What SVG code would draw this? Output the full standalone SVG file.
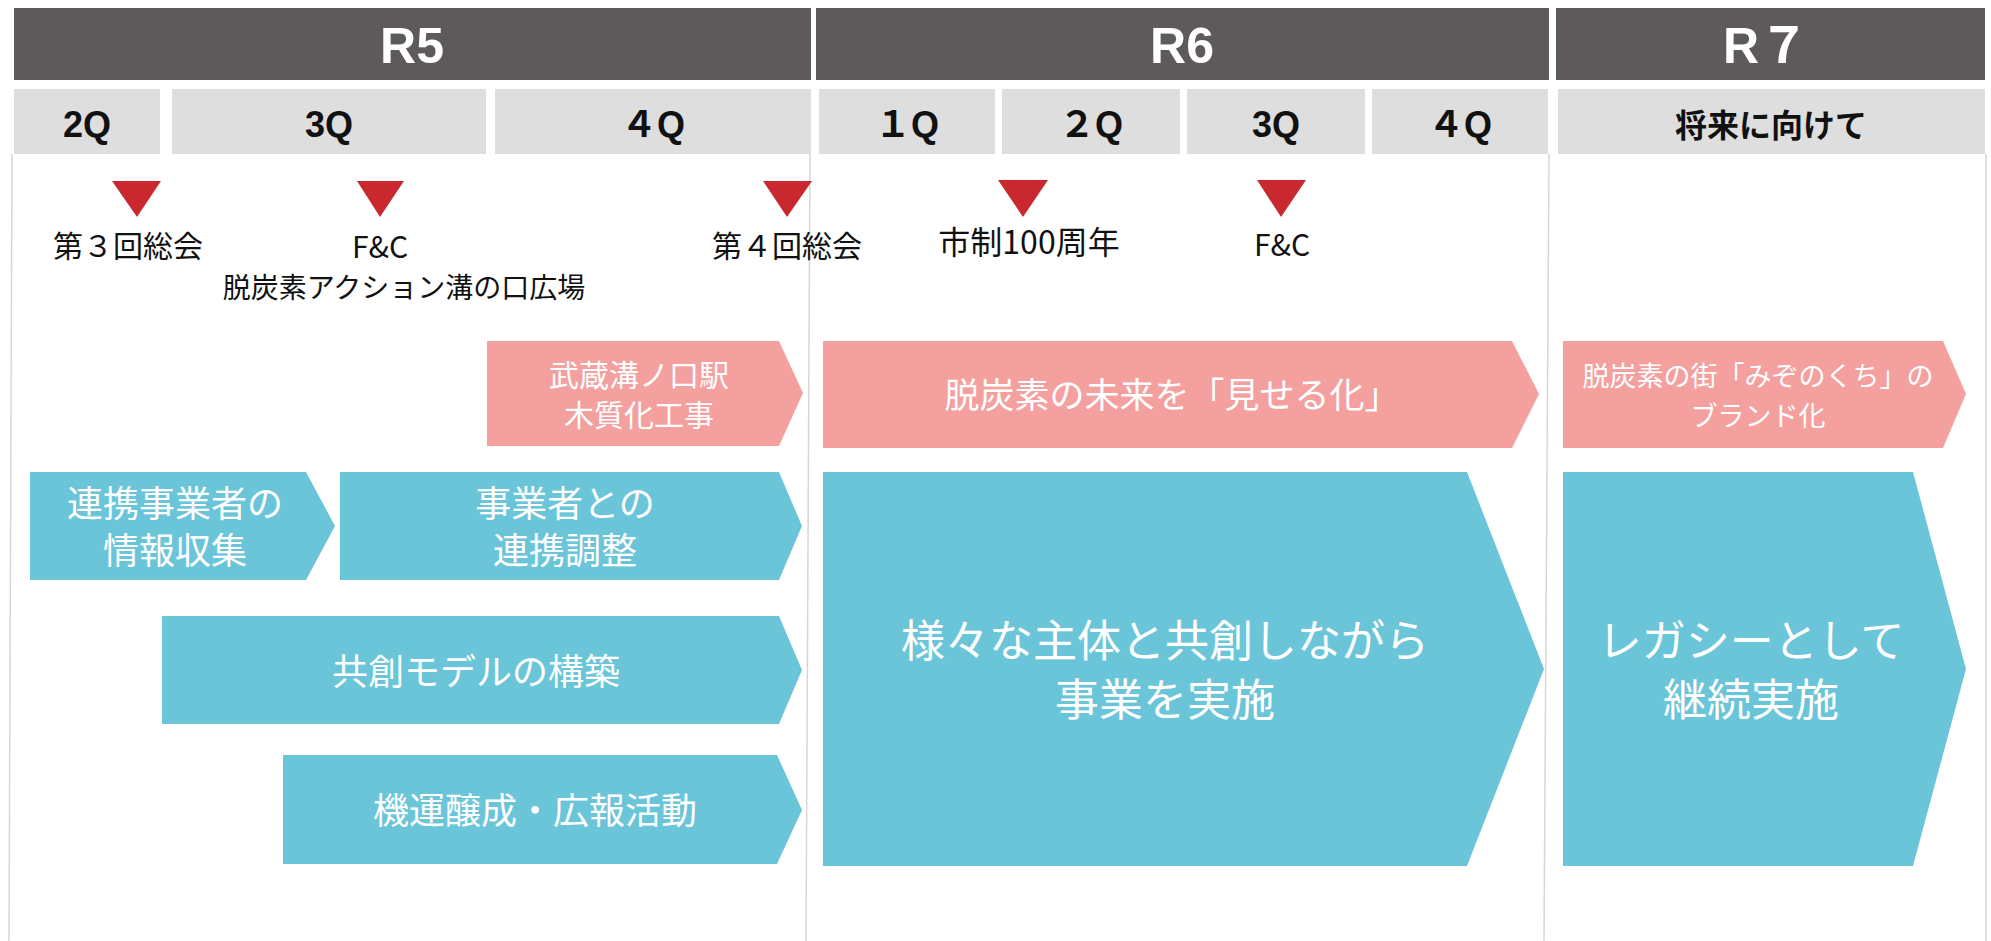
<svg xmlns="http://www.w3.org/2000/svg" width="1991" height="941" viewBox="0 0 1991 941">
<style>
.hdr{fill:#5e5a5b}
.qb{fill:#dedede}
.ht{font-family:"Liberation Sans","Noto Sans CJK JP",sans-serif;font-weight:bold;font-size:50px;fill:#fff;text-anchor:middle}
.qt{font-family:"Liberation Sans","Noto Sans CJK JP",sans-serif;font-weight:bold;font-size:36px;fill:#111;text-anchor:middle}
.qj{font-family:"Noto Sans CJK JP",sans-serif;font-weight:bold;font-size:32px;fill:#111;text-anchor:middle}
.tri{fill:#c9292e}
.ev{font-family:"Noto Sans CJK JP",sans-serif;font-size:30px;fill:#111;text-anchor:middle}
.pink{fill:#f4a09f}
.blue{fill:#6bc5d9}
.wt{font-family:"Noto Sans CJK JP",sans-serif;fill:#fff;text-anchor:middle}
.vl{stroke:#d6d6d6;stroke-width:1.5;fill:none}
</style>
<rect width="1991" height="941" fill="#fff"/>
<g id="gridlines">
<line class="vl" x1="12" y1="154" x2="9" y2="941"/>
<line class="vl" x1="810" y1="154" x2="806" y2="941"/>
<line class="vl" x1="1549" y1="154" x2="1544" y2="941"/>
<line class="vl" x1="1986" y1="154" x2="1986" y2="941"/>
</g>
<g id="header-R5"><rect class="hdr" x="14" y="8" width="797" height="72"/><text class="ht" x="412" y="63">R5</text></g>
<g id="header-R6"><rect class="hdr" x="816" y="8" width="733" height="72"/><text class="ht" x="1182" y="63">R6</text></g>
<g id="header-R7"><rect class="hdr" x="1556" y="8" width="429" height="72"/><text class="ht" x="1766" y="63">R７</text></g>
<g id="q-R5-2Q"><rect class="qb" x="14" y="89" width="146" height="65"/><text class="qt" x="87" y="137">2Q</text></g>
<g id="q-R5-3Q"><rect class="qb" x="172" y="89" width="314" height="65"/><text class="qt" x="329" y="137">3Q</text></g>
<g id="q-R5-4Q"><rect class="qb" x="495" y="89" width="316" height="65"/><text class="qt" x="653" y="137">４Q</text></g>
<g id="q-R6-1Q"><rect class="qb" x="819" y="89" width="176" height="65"/><text class="qt" x="907" y="137">１Q</text></g>
<g id="q-R6-2Q"><rect class="qb" x="1002" y="89" width="178" height="65"/><text class="qt" x="1091" y="137">２Q</text></g>
<g id="q-R6-3Q"><rect class="qb" x="1187" y="89" width="178" height="65"/><text class="qt" x="1276" y="137">3Q</text></g>
<g id="q-R6-4Q"><rect class="qb" x="1372" y="89" width="176" height="65"/><text class="qt" x="1460" y="137">４Q</text></g>
<g id="q-R7-future"><rect class="qb" x="1558" y="89" width="427" height="65"/><text class="qj" x="1771" y="137">将来に向けて</text></g>
<g id="ev-sokai3"><polygon class="tri" points="112,181 161,181 137,217"/><text class="ev" x="128" y="257">第３回総会</text></g>
<g id="ev-fc1"><polygon class="tri" points="357,181 404,181 380,217"/><text class="ev" x="380" y="258">F&amp;C</text><text class="ev" x="404" y="298" style="font-size:28px">脱炭素アクション溝の口広場</text></g>
<g id="ev-sokai4"><polygon class="tri" points="763,181 812,181 787,217"/><text class="ev" x="787" y="257">第４回総会</text></g>
<g id="ev-100th"><polygon class="tri" points="998,180 1048,180 1023,217"/><text class="ev" x="1029" y="254" style="font-size:32px">市制100周年</text></g>
<g id="ev-fc2"><polygon class="tri" points="1257,180 1306,180 1281,217"/><text class="ev" x="1282" y="256">F&amp;C</text></g>
<g id="bar-station"><polygon class="pink" points="487,341 779,341 803,393 779,446 487,446"/><text class="wt" x="639" y="386" font-size="30">武蔵溝ノ口駅</text><text class="wt" x="639" y="426" font-size="30">木質化工事</text></g>
<g id="bar-visualize"><polygon class="pink" points="823,341 1512,341 1539,394 1512,448 823,448"/><text class="wt" x="1172" y="408" font-size="35">脱炭素の未来を「見せる化」</text></g>
<g id="bar-brand"><polygon class="pink" points="1563,341 1943,341 1966,394 1943,448 1563,448"/><text class="wt" x="1758" y="386" font-size="27">脱炭素の街「みぞのくち」の</text><text class="wt" x="1758" y="426" font-size="27">ブランド化</text></g>
<g id="bar-info"><polygon class="blue" points="30,472 306,472 335,526 306,580 30,580"/><text class="wt" x="175" y="517" font-size="36">連携事業者の</text><text class="wt" x="175" y="564" font-size="36">情報収集</text></g>
<g id="bar-coord"><polygon class="blue" points="340,472 779,472 802,526 779,580 340,580"/><text class="wt" x="565" y="517" font-size="36">事業者との</text><text class="wt" x="565" y="564" font-size="36">連携調整</text></g>
<g id="bar-model"><polygon class="blue" points="162,616 779,616 802,670 779,724 162,724"/><text class="wt" x="476" y="685" font-size="36">共創モデルの構築</text></g>
<g id="bar-pr"><polygon class="blue" points="283,755 777,755 802,810 777,864 283,864"/><text class="wt" x="535" y="824" font-size="36">機運醸成・広報活動</text></g>
<g id="bar-implement"><polygon class="blue" points="823,472 1467,472 1544,669 1467,866 823,866"/><text class="wt" x="1165" y="657" font-size="44">様々な主体と共創しながら</text><text class="wt" x="1165" y="716" font-size="44">事業を実施</text></g>
<g id="bar-legacy"><polygon class="blue" points="1563,472 1913,472 1966,669 1913,866 1563,866"/><text class="wt" x="1751" y="657" font-size="44">レガシーとして</text><text class="wt" x="1751" y="716" font-size="44">継続実施</text></g>
<g id="connectors"></g>
</svg>
